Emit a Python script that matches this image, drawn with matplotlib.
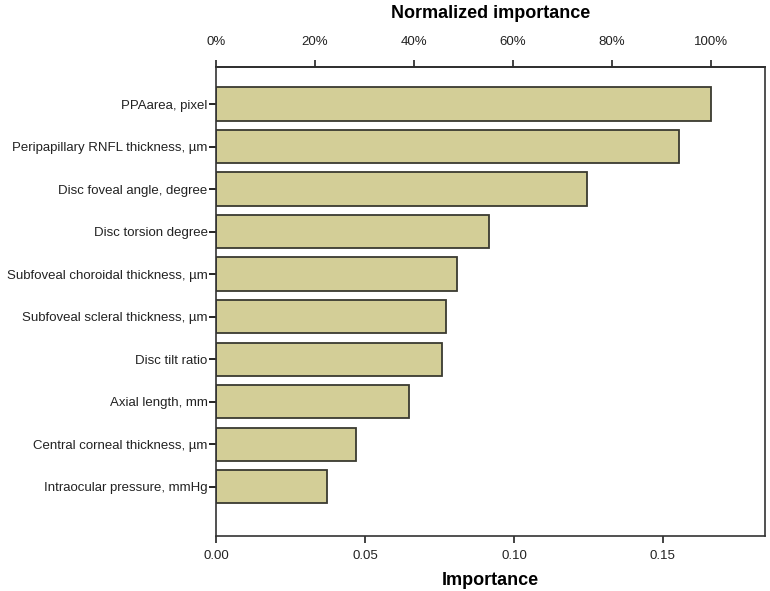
import matplotlib.pyplot as plt
from matplotlib.ticker import FuncFormatter

plt.rcParams['font.family'] = ['Liberation Sans', 'DejaVu Sans']

# 变量名与重要性（从上到下）
features = [
    "PPAarea, pixel",
    "Peripapillary RNFL thickness, µm",
    "Disc foveal angle, degree",
    "Disc torsion degree",
    "Subfoveal choroidal thickness, µm",
    "Subfoveal scleral thickness, µm",
    "Disc tilt ratio",
    "Axial length, mm",
    "Central corneal thickness, µm",
    "Intraocular pressure, mmHg",
]
importance = [0.1660, 0.1553, 0.1245, 0.0917, 0.0808, 0.0772, 0.0759, 0.0649, 0.0469, 0.0372]
bottom_ticks = [0.00, 0.05, 0.10, 0.15]
top_ticks = [0, 20, 40, 60, 80, 100]

max_imp = max(importance)

fig = plt.figure(figsize=(7.7, 5.91), dpi=100)
ax = fig.add_axes([0.2805, 0.0939, 0.7124, 0.7934])

pos = list(range(len(features)))
ax.barh(pos, importance, height=0.78, color='#d3ce97', edgecolor='#3a3a30', linewidth=1.3)

ax.set_ylim(10.15, -0.88)
ax.set_xlim(0, 0.1841)
ax.set_yticks(pos)
ax.set_yticklabels(features, fontsize=9.5, color='#222222')
ax.set_xticks(bottom_ticks)
ax.xaxis.set_major_formatter(FuncFormatter(lambda v, p: f"{v:.2f}"))
ax.tick_params(axis='x', labelsize=9.5, length=5, width=1.2, pad=5.5, colors='#222222')
ax.tick_params(axis='y', length=5, width=1.2, pad=1)
ax.set_xlabel("Importance", fontsize=13, fontweight='bold', labelpad=7)

for s in ax.spines.values():
    s.set_linewidth(1.2)
    s.set_color('#333333')

# 顶部：归一化重要性
sec = ax.secondary_xaxis('top', functions=(lambda x: x / max_imp * 100,
                                            lambda p: p * max_imp / 100))
sec.set_xticks(top_ticks)
sec.xaxis.set_major_formatter(FuncFormatter(lambda v, p: f"{v:.0f}%"))
sec.tick_params(labelsize=9.5, length=5, width=1.2, pad=8.5, colors='#222222')
sec.spines['top'].set_linewidth(1.2)
sec.set_xlabel("Normalized importance", fontsize=13, fontweight='bold', labelpad=13)

fig.savefig("out.png", dpi=100)
plt.close(fig)
